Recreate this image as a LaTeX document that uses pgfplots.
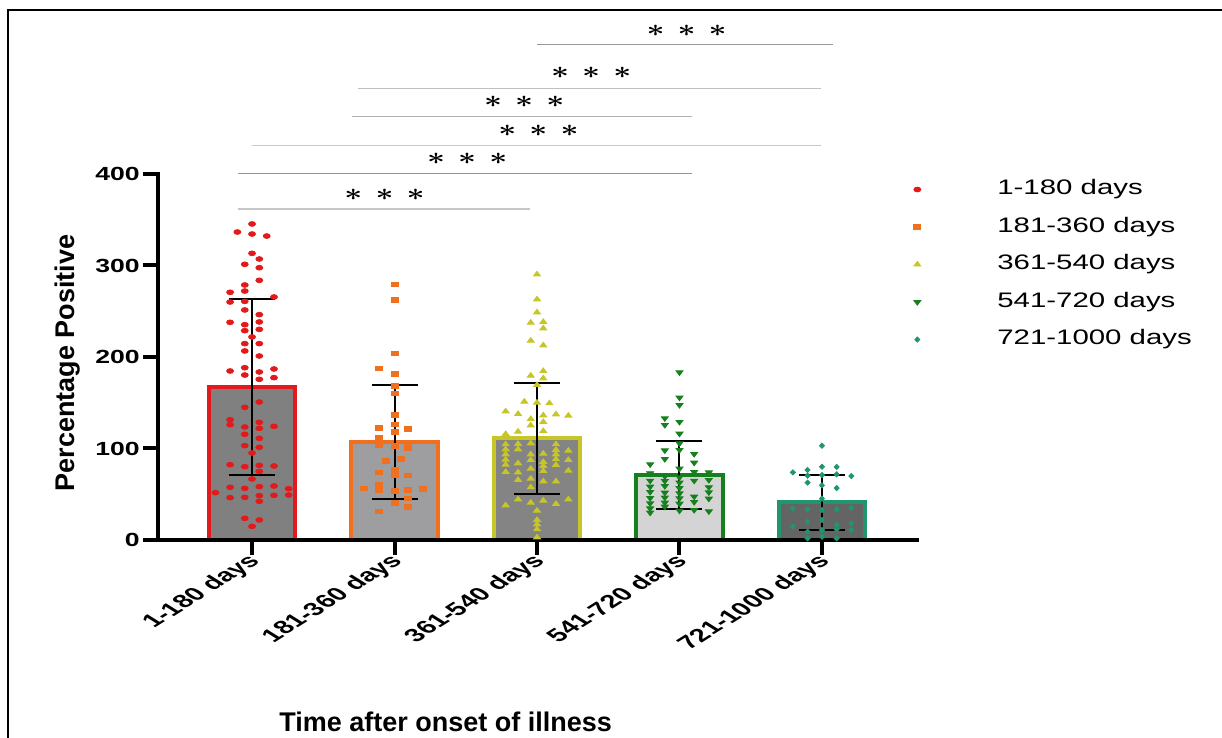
\documentclass[border=0pt]{standalone}
\usepackage{pgfplots}
\pgfplotsset{compat=1.18}
\usepackage{pgfplotstable}
\usepackage{fontspec}
\setmainfont{Liberation Sans}
\newfontfamily\legfont[FakeStretch=1.4]{Liberation Sans}

\definecolor{cRed}{RGB}{226,26,28}
\definecolor{cOrange}{RGB}{240,112,32}
\definecolor{cOlive}{RGB}{198,198,40}
\definecolor{cGreen}{RGB}{22,128,30}
\definecolor{cTeal}{RGB}{32,150,112}
\definecolor{fA}{RGB}{128,128,128}
\definecolor{fB}{RGB}{158,158,160}
\definecolor{fC}{RGB}{132,132,132}
\definecolor{fD}{RGB}{212,212,212}
\definecolor{fE}{RGB}{100,100,100}

% individual values, x = group index + horizontal jitter
\pgfplotstableread{
x y
0 345.4
-0.103 336.6
0 334.4
0.103 332.2
0 313.3
-0.051 301.3
0.051 307.1
0.051 297.6
0.051 283.8
-0.051 278.7
-0.051 272.1
-0.154 270.7
0.154 265.6
-0.154 260.1
-0.051 260.8
0.051 246.3
-0.051 251.4
-0.154 237.9
-0.051 235.3
0.051 238.3
-0.051 228.8
0.051 230.2
0 221.9
-0.051 214.6
0.051 214.6
-0.051 206.6
0.051 201.1
-0.154 184.7
-0.051 188.3
-0.051 180.3
0.051 183.6
0.051 175.6
0.154 186.9
0.154 177.4
0.051 150.8
-0.051 145.0
-0.154 131.5
-0.154 126.0
-0.051 123.5
0.051 128.6
0.051 122.0
0.154 124.2
-0.051 115.5
0.051 111.1
-0.051 103.1
0.051 101.3
0 95.1
-0.154 82.3
-0.051 80.1
0.051 81.6
0.051 75.0
0.154 80.9
0 66.7
-0.154 57.6
-0.051 56.5
0.051 58.3
0.154 59.0
0.257 56.1
-0.257 51.7
-0.154 46.3
-0.051 46.6
0.051 48.5
0.051 42.3
0.154 48.8
0.257 49.2
-0.051 23.7
0.051 21.9
0 14.9
}\ptsA

\pgfplotstableread{
x y
1 279.4
1 262.7
1 204.0
0.890 187.6
1 181.8
1 168.3
1 160.3
1 136.6
1 126.4
1 118.4
0.890 122.4
1.096 121.3
0.890 111.8
0.890 103.8
1 102.7
1.096 106.4
1.096 100.9
0.942 86.7
1.044 88.5
1 77.2
1 71.0
0.890 73.9
1.096 70.7
0.787 56.5
0.890 60.8
0.890 54.6
1 53.9
1.096 54.6
1.200 56.1
1.096 45.5
1 40.4
1.096 36.1
0.890 31.3
}\ptsB

\pgfplotstableread{
x y
2 290.3
2 263.0
2 248.8
1.956 237.5
2.044 238.3
2.044 231.3
1.956 217.9
2.044 212.7
1.956 179.6
2.044 184.7
2.044 176.7
2 169.4
1.911 151.2
2 150.1
2.087 149.4
1.78 140.6
1.867 137.7
1.956 132.2
2.044 136.2
2.133 137.3
2.22 135.9
1.956 125.3
2.044 129.0
1.78 115.8
1.867 118.4
2.044 119.1
1.78 104.6
1.867 104.9
1.956 105.6
2.133 104.6
1.78 99.1
1.867 99.1
2.133 98.4
2.22 97.6
1.78 93.6
1.956 93.6
2.044 94.4
2.133 93.6
1.78 87.8
1.956 87.4
2.044 85.2
2.133 88.2
2.22 87.4
1.78 82.3
1.867 83.8
2.044 80.9
2.133 82.0
1.78 74.3
1.867 73.9
1.956 78.0
2.044 75.4
2.22 75.8
1.867 65.6
1.956 67.0
2.044 64.1
2.133 64.1
1.956 57.6
1.867 44.4
1.956 40.8
2.044 43.0
2.133 39.3
2.22 44.4
1.78 37.9
2 32.1
2 21.9
2 17.1
2 11.7
2 2.9
}\ptsC

\pgfplotstableread{
x y
3 183.2
3 155.6
3 147.5
2.897 133.0
2.897 125.7
3 129.0
3 116.2
3 105.6
3 98.4
2.897 98.0
2.897 88.5
3.103 94.0
3.103 84.5
2.794 82.7
3 78.0
3.103 74.3
3.206 73.9
2.794 72.9
2.897 69.6
3 68.5
2.794 64.8
2.897 64.5
3 62.7
3.103 64.8
3.206 65.6
2.794 58.3
2.897 59.0
3 56.8
3.206 57.6
2.794 52.5
2.897 51.7
3 51.0
3.206 52.1
2.794 45.9
2.897 46.3
3 45.5
3.103 47.4
3.206 45.2
2.794 40.1
2.897 40.8
3 39.7
3.103 41.5
2.794 34.6
2.897 36.4
3 32.1
3.103 32.8
3.206 31.3
2.794 29.9
}\ptsD

\pgfplotstableread{
x y
4 103.1
3.796 73.9
3.899 76.5
4 80.1
4.103 79.8
4.206 69.9
3.899 70.3
4 71.0
4.103 71.8
3.899 62.7
4 59.7
4.103 56.8
4 45.2
3.796 34.6
3.899 33.5
4 32.8
4.103 33.5
4.206 35.0
3.796 14.6
3.899 20.0
4 21.9
4.103 16.4
4.206 18.2
3.899 9.1
4 10.9
4.103 11.7
4.206 10.9
3.899 1.8
4 3.6
4.103 1.8
}\ptsE

\tikzset{stars/.style={xscale=1.3, font=\boldmath\fontsize{11.5}{12}\selectfont}}
\newcommand{\threestars}{$\ast\hspace{2pt}\ast\hspace{2pt}\ast$}

\begin{document}
\begin{tikzpicture}
\useasboundingbox (0,0) rectangle (611pt,369pt);
\draw[line width=1pt] (4pt,0) -- (4pt,363.75pt) -- (611pt,363.75pt);
\begin{axis}[
  at={(79pt,99pt)}, anchor=south west,
  scale only axis, width=379.5pt, height=183pt,
  xmin=-0.66, xmax=4.667, ymin=0, ymax=400,
  axis x line=bottom, axis y line=left,
  axis line style={-, line width=2pt, line cap=rect},
  tick align=outside,
  xtick={0,1,2,3,4},
  xticklabels={1-180 days,181-360 days,361-540 days,541-720 days,721-1000 days},
  ytick={0,100,200,300,400},
  major tick length=7.5pt,
  tick style={line width=2pt, black},
  /pgf/number format/assume math mode=true,
  yticklabel style={xscale=1.4, inner sep=1pt, font=\bfseries\fontsize{9.5}{11}\selectfont},
  xticklabel style={xshift=3pt, yshift=-1pt, xscale=1.6, rotate=45, anchor=east, inner sep=1pt,
    font=\bfseries\fontsize{9.2}{11}\selectfont},
  clip=false, axis on top,
  xlabel={Time after onset of illness},
  ylabel={Percentage Positive},
  label style={font=\bfseries\fontsize{13.5}{16}\selectfont},
  xlabel style={at={(axis description cs:0.379,-0.497)}, anchor=center},
  ylabel style={at={(axis description cs:-0.1186,0.484)}, anchor=center},
  legend style={draw=none, fill=none, inner sep=0pt,
    at={(axis description cs:0.992,0.986)}, anchor=north west,
    font=\legfont\fontsize{10.5}{12}\selectfont,
    row sep=8.75pt,
    nodes={inner sep=0pt, text height=7.5pt, text depth=2.5pt}},
  legend cell align=left,
  legend image code/.code={%
    \path[draw=none, fill=none] (-3pt,0pt) -- (40pt,0pt);
    \path[#1, draw=none] plot[only marks] coordinates {(0pt,0pt)};},
]
% bars (group means)
\addplot[forget plot, ybar, bar shift=0pt, bar width=0.61, fill=fA, draw=cRed, line width=2pt] coordinates {(0,167)};
\addplot[forget plot, ybar, bar shift=0pt, bar width=0.61, fill=fB, draw=cOrange, line width=2pt] coordinates {(1,107)};
\addplot[forget plot, ybar, bar shift=0pt, bar width=0.61, fill=fC, draw=cOlive, line width=2pt] coordinates {(2,111)};
\addplot[forget plot, ybar, bar shift=0pt, bar width=0.61, fill=fD, draw=cGreen, line width=2pt] coordinates {(3,71)};
\addplot[forget plot, ybar, bar shift=0pt, bar width=0.61, fill=fE, draw=cTeal, line width=2pt] coordinates {(4,41)};
% individual values
\addplot[only marks, mark=*, cRed, mark size=1.2pt, mark options={xscale=1.45}] table[x=x,y=y] {\ptsA};
\addlegendentry{1-180 days}
\addplot[only marks, mark=square*, cOrange, mark size=1.15pt, mark options={xscale=1.5}] table[x=x,y=y] {\ptsB};
\addlegendentry{181-360 days}
\addplot[only marks, mark=triangle*, cOlive, mark size=1.55pt, mark options={xscale=1.3}] table[x=x,y=y] {\ptsC};
\addlegendentry{361-540 days}
\addplot[only marks, mark=triangle*, cGreen, mark size=1.55pt, mark options={rotate=180, xscale=1.3}] table[x=x,y=y] {\ptsD};
\addlegendentry{541-720 days}
\addplot[only marks, mark=diamond*, cTeal, mark size=1.3pt, mark options={xscale=1.3}] table[x=x,y=y] {\ptsE};
\addlegendentry{721-1000 days}
% mean +/- SD
\addplot[forget plot, draw=none, mark=none,
  error bars/.cd, y dir=both, y explicit,
  error bar style={draw=black, line width=1pt},
  error mark options={rotate=90, mark size=11.5pt, line width=1pt, draw=black}]
  coordinates {(0,167) +- (0,96) (1,107) +- (0,62) (2,111) +- (0,61) (3,71) +- (0,37) (4,41) +- (0,30)};
% pairwise comparisons
\draw[color=black!40, line width=0.7pt] (axis cs:2.0,541.7) -- (axis cs:4.08,541.7);
\draw[color=black!25, line width=0.7pt] (axis cs:0.745,493.7) -- (axis cs:3.99,493.7);
\draw[color=black!30, line width=0.7pt] (axis cs:0.70,462.6) -- (axis cs:3.09,462.6);
\draw[color=black!22, line width=0.7pt] (axis cs:0.0,430.9) -- (axis cs:3.99,430.9);
\draw[color=black!42, line width=0.7pt] (axis cs:-0.1,400.3) -- (axis cs:3.09,400.3);
\draw[color=black!22, line width=0.7pt] (axis cs:-0.1,361.7) -- (axis cs:1.95,361.7);
\node[stars] at (axis cs:3.05,556.3) {\threestars};
\node[stars] at (axis cs:2.38,510.4) {\threestars};
\node[stars] at (axis cs:1.91,479.0) {\threestars};
\node[stars] at (axis cs:2.01,447.3) {\threestars};
\node[stars] at (axis cs:1.51,416.1) {\threestars};
\node[stars] at (axis cs:0.93,377.0) {\threestars};
\end{axis}
\end{tikzpicture}
\end{document}
